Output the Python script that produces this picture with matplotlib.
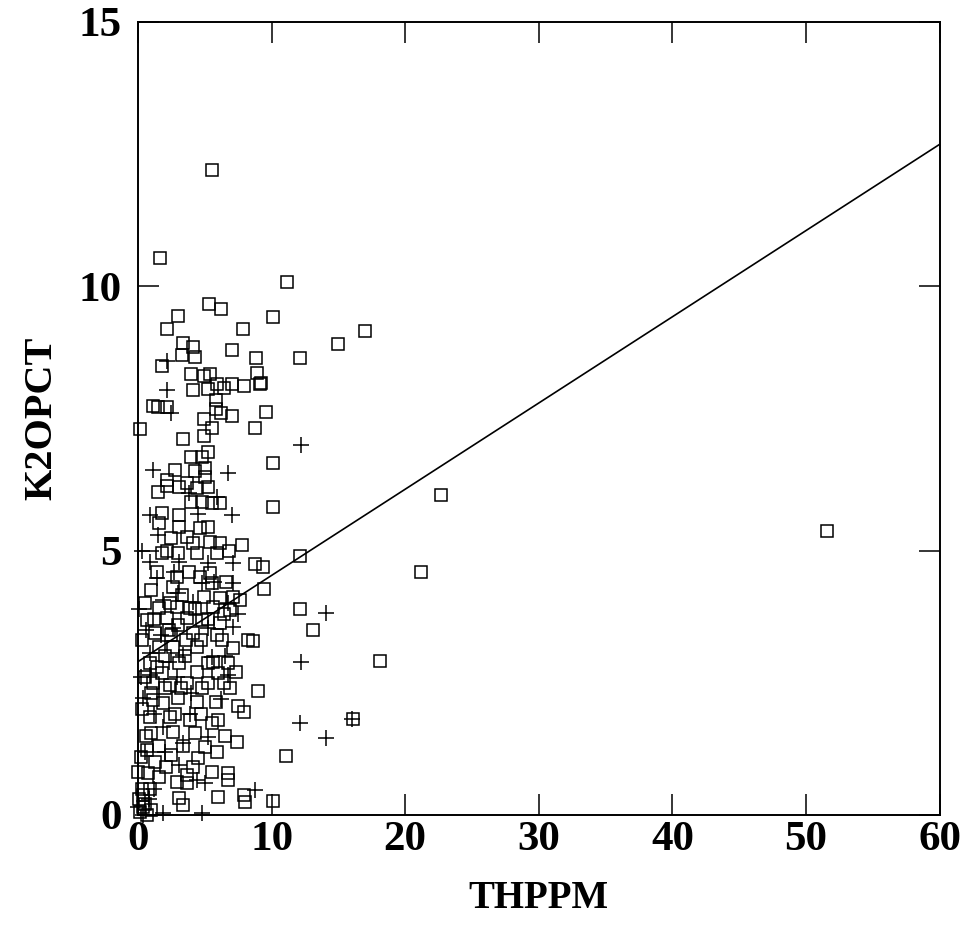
import matplotlib
matplotlib.use("Agg")
import matplotlib.pyplot as plt
import numpy as np

#---------------------------
# DATA
#---------------------------
# square markers: (THPPM, K2OPCT)
SQUARES = [
    (5.5, 12.19), (1.65, 10.53), (11.15, 10.08), (5.3, 9.66), (6.2, 9.57), (10.1, 9.42),
    (7.85, 9.19), (3.0, 9.43), (2.2, 9.19), (17.0, 9.15), (15.0, 8.9), (3.4, 8.92),
    (4.1, 8.85), (7.0, 8.79), (3.3, 8.7), (4.3, 8.66), (8.8, 8.64), (12.1, 8.64),
    (1.8, 8.49), (8.9, 8.36), (4.0, 8.34), (4.9, 8.3), (5.4, 8.34), (9.1, 8.15),
    (4.1, 8.03), (5.2, 8.05), (5.9, 8.15), (6.4, 8.07), (7.0, 8.15), (7.9, 8.11),
    (9.2, 8.17), (1.1, 7.73), (1.5, 7.71), (2.2, 7.71), (5.8, 7.85), (5.8, 7.67),
    (6.2, 7.6), (7.0, 7.54), (9.6, 7.62), (4.9, 7.49), (8.75, 7.32), (5.5, 7.31),
    (0.15, 7.3), (4.9, 7.16), (3.4, 7.1), (5.2, 6.86), (4.0, 6.77), (4.8, 6.77),
    (10.1, 6.65), (5.0, 6.56), (4.3, 6.5), (2.8, 6.52), (5.0, 6.39), (2.2, 6.33),
    (3.7, 6.28), (3.1, 6.2), (2.2, 6.22), (4.4, 6.18), (5.2, 6.2), (22.7, 6.05),
    (4.0, 5.92), (4.8, 5.92), (5.5, 5.9), (6.1, 5.9), (10.1, 5.82), (1.8, 5.71),
    (3.1, 5.67), (1.6, 5.52), (3.1, 5.44), (4.6, 5.42), (5.2, 5.44), (51.6, 5.37),
    (2.5, 5.24), (3.7, 5.26), (4.1, 5.14), (5.4, 5.16), (6.1, 5.14), (7.8, 5.1),
    (1.8, 4.95), (3.0, 4.95), (4.4, 4.95), (5.9, 4.95), (12.1, 4.9), (8.75, 4.74),
    (9.35, 4.69), (21.2, 4.6), (5.4, 4.57), (2.9, 4.5), (1.0, 4.25), (2.6, 4.31),
    (5.5, 4.39), (9.4, 4.27), (3.3, 4.16), (4.9, 4.12), (6.1, 4.1), (7.1, 4.12),
    (7.6, 4.06), (1.6, 3.91), (2.9, 3.93), (3.9, 3.91), (5.6, 3.93), (6.9, 3.88),
    (12.1, 3.89), (0.7, 3.69), (2.2, 3.72), (3.7, 3.72), (4.8, 3.69), (6.1, 3.63),
    (13.1, 3.5), (1.3, 3.44), (2.5, 3.4), (4.1, 3.44), (5.9, 3.4), (8.6, 3.29),
    (8.2, 3.31), (7.1, 3.16), (2.6, 3.18), (4.4, 3.18), (1.6, 3.18), (18.1, 2.91),
    (0.9, 2.87), (3.1, 2.87), (5.2, 2.87), (6.7, 2.87), (1.8, 2.68), (4.4, 2.7),
    (6.0, 2.68), (1.1, 2.5), (2.4, 2.46), (3.7, 2.5), (5.2, 2.5), (6.4, 2.5),
    (9.0, 2.34), (1.1, 2.17), (1.9, 2.12), (3.0, 2.21), (4.4, 2.14), (5.8, 2.14),
    (7.5, 2.06), (7.9, 1.95), (0.9, 1.85), (2.4, 1.85), (3.9, 1.8), (5.5, 1.74),
    (6.0, 1.8), (16.1, 1.81), (1.0, 1.55), (2.6, 1.57), (4.3, 1.55), (7.4, 1.38),
    (11.1, 1.11), (0.7, 1.23), (2.5, 1.13), (4.5, 1.08), (5.0, 1.29), (5.9, 1.19),
    (0.0, 0.81), (0.75, 0.79), (1.6, 0.72), (3.7, 0.76), (5.5, 0.81), (6.7, 0.79),
    (6.7, 0.66), (2.9, 0.62), (3.7, 0.6), (6.0, 0.34), (7.9, 0.38), (8.0, 0.25),
    (10.1, 0.26), (3.1, 0.32), (3.4, 0.19), (0.4, 0.38), (0.4, 0.15), (0.15, 0.06),
    (0.7, 0.0), (0.5, 2.6), (0.3, 2.0), (0.6, 1.5), (0.2, 1.1), (0.9, 0.5),
    (0.5, 0.2), (1.3, 1.0), (1.4, 2.8), (2.0, 3.0), (3.5, 3.0), (4.7, 3.3),
    (5.6, 2.9), (6.3, 3.3), (2.0, 2.4), (3.2, 2.4), (4.8, 2.4), (2.8, 1.9),
    (4.7, 1.9), (1.6, 1.3), (3.4, 1.3), (2.1, 0.9), (4.1, 0.9), (1.2, 3.7),
    (2.4, 4.0), (4.3, 3.9), (6.6, 4.4), (3.8, 4.6), (1.4, 4.6), (2.2, 5.0),
    (5.2, 3.7), (6.4, 3.8), (3.6, 3.3), (1.0, 2.3), (0.3, 0.5), (0.1, 0.3),
    (1.0, 0.1), (6.9, 2.4), (7.3, 2.7), (6.5, 1.5), (2.3, 3.5), (3.0, 3.6),
    (4.6, 4.5), (6.8, 5.0), (0.5, 4.0), (0.3, 3.3), (1.5, 6.1),
]

# plus markers: (THPPM, K2OPCT)
PLUSES = [
    (2.2, 8.58), (2.2, 8.04), (2.5, 7.6), (12.2, 7.0), (1.1, 6.52), (6.7, 6.46),
    (3.8, 6.09), (5.9, 6.01), (0.9, 5.67), (7.0, 5.67), (0.9, 4.78), (3.1, 4.78),
    (5.2, 4.76), (7.1, 4.76), (1.4, 4.48), (4.8, 4.39), (7.1, 4.39), (1.9, 4.06),
    (4.1, 4.03), (6.7, 4.01), (14.1, 3.82), (2.6, 3.53), (5.2, 3.53), (7.1, 3.55),
    (0.9, 3.06), (3.4, 3.02), (5.5, 2.99), (12.2, 2.9), (0.9, 2.65), (2.9, 2.61),
    (6.7, 2.65), (0.4, 2.21), (1.9, 1.66), (3.4, 1.36), (5.2, 1.47), (12.1, 1.74),
    (14.1, 1.45), (16.0, 1.81), (3.1, 0.95), (4.4, 0.66), (8.75, 0.47), (0.0, 0.15),
    (1.9, 0.04), (4.8, 0.04), (0.4, 0.0), (0.3, 5.0), (0.6, 3.5), (0.2, 2.6),
    (1.2, 1.9), (0.5, 1.2), (2.3, 2.9), (4.0, 2.3), (6.2, 2.2), (3.0, 4.2),
    (5.7, 4.4), (1.5, 5.3), (4.5, 5.7), (2.0, 1.2), (1.2, 0.5), (6.5, 3.0),
    (3.9, 1.9), (0.8, 0.3), (2.7, 4.6), (7.5, 3.8), (5.0, 0.6), (0.1, 3.9),
    (1.7, 3.4),
]

# fitted line K2OPCT = FIT_B + FIT_M * THPPM
FIT_B = 2.9
FIT_M = 0.163
FIT_RANGE = [0, 60]

X_TICKS = [0, 10, 20, 30, 40, 50, 60]
Y_TICKS = [0, 5, 10, 15]
X_LABEL = "THPPM"
Y_LABEL = "K2OPCT"

#---------------------------
# PLOT
#---------------------------
plt.rcParams['font.family'] = ['Liberation Serif', 'DejaVu Serif']

fig = plt.figure(figsize=(9.6, 9.4), dpi=100)
ax = fig.add_axes([0.1438, 0.133, 0.835, 0.844])

sq = np.array(SQUARES)
pl = np.array(PLUSES)

ax.plot(sq[:, 0], sq[:, 1], linestyle='none', marker='s', markersize=8.8,
        markerfacecolor='none', markeredgecolor='black', markeredgewidth=1.1, clip_on=False)
ax.plot(pl[:, 0], pl[:, 1], linestyle='none', marker='+', markersize=12,
        color='black', markeredgewidth=1.1, clip_on=False)

fx = np.array(FIT_RANGE, dtype=float)
ax.plot(fx, FIT_B + FIT_M * fx, color='black', linewidth=1.2)

ax.set_xlim(0, 60)
ax.set_ylim(0, 15)
ax.set_xticks(X_TICKS)
ax.set_yticks(Y_TICKS)
ax.tick_params(direction='in', length=15, width=1.1, top=True, right=True, labelsize=31)
ax.tick_params(axis='x', pad=4)
ax.tick_params(axis='y', pad=12)
for lab in ax.get_xticklabels() + ax.get_yticklabels():
    lab.set_fontweight('bold')
for sp in ax.spines.values():
    sp.set_linewidth(1.4)

ax.set_xlabel(X_LABEL, fontsize=28, fontweight='bold', va='center')
ax.set_ylabel(Y_LABEL, fontsize=29, fontweight='bold', va='center')
ax.xaxis.set_label_coords(0.5, -0.105)
ax.yaxis.set_label_coords(-0.12, 0.5)

fig.savefig("out.png", dpi=100, facecolor='white')
